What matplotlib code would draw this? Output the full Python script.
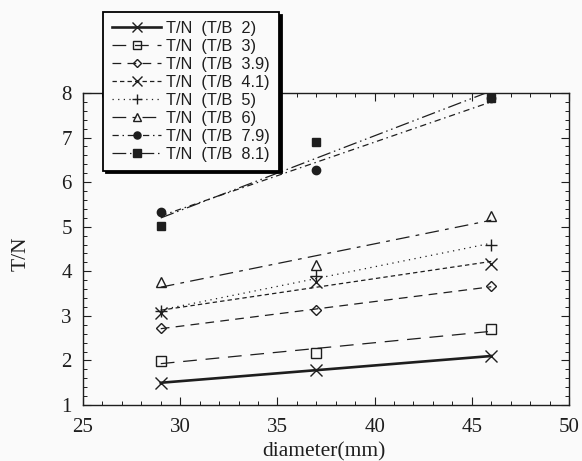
import numpy as np
import matplotlib
matplotlib.use("Agg")
import matplotlib.pyplot as plt
from matplotlib.ticker import MultipleLocator

# ---- data ----
diameters = [29, 37, 46]
labels = ["T/N  (T/B  2)", "T/N  (T/B  3)", "T/N  (T/B  3.9)", "T/N  (T/B  4.1)",
          "T/N  (T/B  5)", "T/N  (T/B  6)", "T/N  (T/B  7.9)", "T/N  (T/B  8.1)"]
tn_2 = [1.50, 1.78, 2.10]
tn_3 = [1.98, 2.17, 2.70]
tn_39 = [2.72, 3.14, 3.66]
tn_41 = [3.07, 3.75, 4.17]
tn_5 = [3.10, 3.90, 4.60]
tn_6 = [3.75, 4.15, 5.24]
tn_79 = [5.33, 6.28, 7.88]
tn_81 = [5.01, 6.89, 7.88]
series = [tn_2, tn_3, tn_39, tn_41, tn_5, tn_6, tn_79, tn_81]

# ---- styles ----
ink = "#1e1e1e"
styles = [
    dict(marker="x", ms=9, mfc="none", lw=1.9, ls="-"),
    dict(marker="s", ms=7, mfc="none", lw=0.9, ls=(0, (11, 7))),
    dict(marker="D", ms=5, mfc="none", lw=0.9, ls=(0, (7, 5))),
    dict(marker="x", ms=8, mfc="none", lw=0.9, ls=(0, (3.5, 2.5))),
    dict(marker="+", ms=9, mfc="none", lw=0.9, ls=(0, (1, 3.5))),
    dict(marker="^", ms=7, mfc="none", lw=0.9, ls=(0, (11, 5, 3, 5))),
    dict(marker="o", ms=6, mfc=ink, lw=0.9, ls=(0, (5, 3, 1.2, 3))),
    dict(marker="s", ms=6, mfc=ink, lw=0.9, ls=(0, (11, 3, 1.2, 3, 1.2, 3))),
]

fig = plt.figure(figsize=(5.82, 4.61), dpi=100)
fig.patch.set_facecolor("#fafafa")
ax = fig.add_axes([83/582, 1-405/461, (569-83)/582, (405-93)/461])
ax.set_facecolor("#fafafa")

x = np.array(diameters, dtype=float)
xfit = np.array([min(diameters), max(diameters)], dtype=float)
handles = []
for y, st, lab in zip(series, styles, labels):
    y = np.array(y)
    k, b = np.polyfit(x, y, 1)
    ax.plot(xfit, k*xfit + b, color=ink, lw=st["lw"], ls=st["ls"])
    ax.plot(x, y, ls="none", marker=st["marker"], ms=st["ms"], mfc=st["mfc"],
            mec=ink, mew=1.0, color=ink)
    h, = ax.plot([], [], color=ink, lw=st["lw"], ls=st["ls"], marker=st["marker"],
                 ms=st["ms"]*0.85, mfc=st["mfc"], mec=ink, mew=1.0)
    handles.append(h)

ax.set_xlim(25, 50)
ax.set_ylim(1, 8)
ax.xaxis.set_major_locator(MultipleLocator(5))
ax.xaxis.set_minor_locator(MultipleLocator(1))
ax.yaxis.set_major_locator(MultipleLocator(1))
ax.yaxis.set_minor_locator(MultipleLocator(0.2))
ax.tick_params(which="both", direction="in", top=True, right=True, color=ink)
ax.tick_params(which="major", length=6, width=0.8)
ax.tick_params(which="minor", length=3, width=0.7)
ax.tick_params(axis="x", which="major", pad=9)
ax.tick_params(axis="y", which="major", pad=8)
for sp in ax.spines.values():
    sp.set_color(ink)
    sp.set_linewidth(1.0)
for t in ax.get_xticklabels() + ax.get_yticklabels():
    t.set_fontfamily("Liberation Serif")
    t.set_fontsize(15)
    t.set_color(ink)

fig.text(324/582, 1-442/461, "diameter(mm)", ha="center", va="top",
         family="Liberation Serif", fontsize=15.5, color=ink)
fig.text(21/582, 1-254/461, "T/N", ha="center", va="center", rotation=90,
         family="Liberation Serif", fontsize=15.5, color=ink)

leg = ax.legend(handles, labels, loc="upper left",
                bbox_to_anchor=(103/582, 1-12/461), bbox_transform=fig.transFigure,
                prop=dict(family="Liberation Sans", size=11.8),
                frameon=True, fancybox=False, shadow={"color": "black", "alpha": 1},
                handlelength=3.0, handletextpad=0.3, labelspacing=0.18,
                borderpad=0.55, borderaxespad=0, numpoints=1)
leg.get_frame().set_edgecolor("black")
leg.get_frame().set_linewidth(1.3)
leg.get_frame().set_facecolor("#fafafa")
leg.get_frame().set_alpha(1)
leg.set_zorder(10)
for t in leg.get_texts():
    t.set_color(ink)

fig.savefig("out.png", dpi=100, facecolor=fig.get_facecolor())
